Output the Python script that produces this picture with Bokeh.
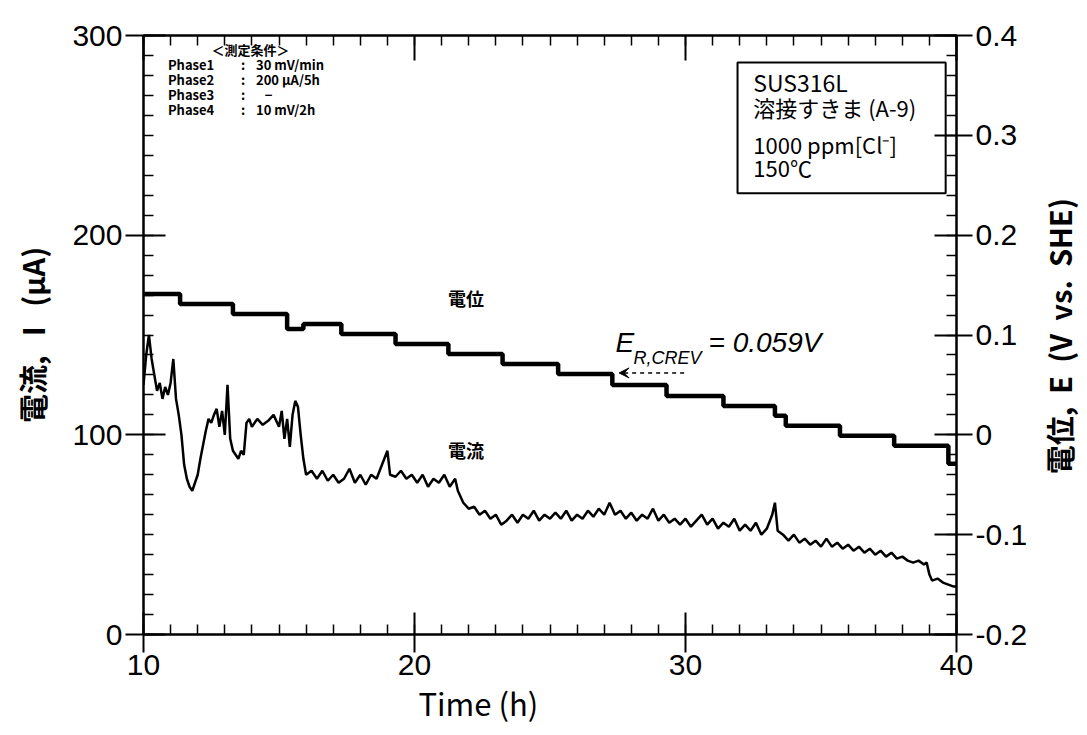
import math
from bokeh.plotting import figure
from bokeh.layouts import row
from bokeh.models import (Range1d, LinearAxis, FixedTicker, CustomJSTickFormatter, Label,
                          BoxAnnotation, Arrow, VeeHead, Title)
from bokeh.embed import file_html
from bokeh.resources import INLINE

# ---------------- data ----------------
time_I = [10.0, 10.1, 10.2, 10.3, 10.4, 10.5, 10.6, 10.7, 10.8, 10.9, 11.0, 11.1, 11.2, 11.3, 11.4,
          11.5, 11.6, 11.7, 11.8, 11.9, 12.0, 12.1, 12.2, 12.3, 12.4, 12.5, 12.6, 12.7, 12.8, 12.9,
          13.0, 13.1, 13.2, 13.3, 13.4, 13.5, 13.6, 13.7, 13.8, 13.9, 14.0, 14.2, 14.4, 14.6, 14.8,
          15.0, 15.1, 15.2, 15.3, 15.4, 15.5, 15.6, 15.7, 15.8, 15.9, 16.0, 16.2, 16.4, 16.6, 16.8,
          17.0, 17.2, 17.4, 17.6, 17.8, 18.0, 18.2, 18.4, 18.6, 18.8, 19.0, 19.1, 19.3, 19.5, 19.7,
          19.9, 20.1, 20.3, 20.5, 20.7, 20.9, 21.1, 21.3, 21.5, 21.6, 21.8, 22.0, 22.2, 22.4, 22.6,
          22.8, 23.0, 23.2, 23.4, 23.6, 23.8, 24.0, 24.2, 24.4, 24.6, 24.8, 25.0, 25.2, 25.4, 25.6,
          25.8, 26.0, 26.2, 26.4, 26.6, 26.8, 27.0, 27.2, 27.4, 27.6, 27.8, 28.0, 28.2, 28.4, 28.6,
          28.8, 29.0, 29.2, 29.4, 29.6, 29.8, 30.0, 30.2, 30.4, 30.6, 30.8, 31.0, 31.2, 31.4, 31.6,
          31.8, 32.0, 32.2, 32.4, 32.6, 32.8, 33.0, 33.2, 33.3, 33.4, 33.6, 33.8, 34.0, 34.2, 34.4,
          34.6, 34.8, 35.0, 35.2, 35.4, 35.6, 35.8, 36.0, 36.2, 36.4, 36.6, 36.8, 37.0, 37.2, 37.4,
          37.6, 37.8, 38.0, 38.2, 38.4, 38.6, 38.8, 38.9, 39.0, 39.1, 39.3, 39.5, 39.7, 39.9, 40.0]
current_uA = [125, 140, 150, 138, 130, 122, 126, 118, 124, 120, 126, 138, 118, 110, 100,
              85, 78, 74, 72, 76, 80, 88, 95, 102, 108, 106, 110, 113, 104, 112,
              100, 125, 98, 92, 90, 88, 92, 90, 106, 108, 104, 108, 105, 107, 110,
              104, 112, 98, 108, 94, 110, 117, 114, 100, 88, 80, 82, 78, 82, 77,
              80, 76, 78, 83, 76, 80, 75, 80, 78, 85, 92, 80, 79, 82, 78,
              80, 76, 80, 74, 78, 76, 80, 74, 78, 72, 66, 63, 64, 60, 62,
              58, 60, 55, 57, 60, 56, 60, 58, 62, 57, 60, 58, 61, 58, 62,
              57, 60, 58, 62, 59, 63, 60, 66, 60, 62, 58, 61, 57, 60, 58,
              63, 57, 60, 56, 58, 55, 58, 54, 57, 60, 55, 58, 53, 56, 54,
              58, 52, 55, 52, 56, 50, 53, 60, 66, 52, 50, 47, 50, 46, 48,
              45, 47, 44, 48, 44, 46, 43, 45, 42, 44, 41, 43, 40, 42, 39,
              41, 38, 39, 37, 36, 37, 35, 36, 30, 27, 28, 26, 25, 24, 24]

time_E = [10.0, 11.35, 13.3, 15.3, 15.9, 17.3, 19.3, 21.25, 23.25, 25.3, 27.3, 29.3, 31.4,
          33.3, 33.7, 35.7, 37.7, 39.7, 40.0]
potential_V = [0.141, 0.131, 0.121, 0.106, 0.111, 0.101, 0.091, 0.081, 0.071, 0.061, 0.050,
               0.039, 0.029, 0.019, 0.009, -0.001, -0.011, -0.029, -0.029]

x_major = [10, 20, 30, 40]
x_minor = list(range(10, 41))
yI_major = [0, 100, 200, 300]
yI_minor = list(range(0, 301, 10))
yE_major = [-0.2, -0.1, 0.0, 0.1, 0.2, 0.3, 0.4]
yE_minor = [round(-0.2 + 0.02 * i, 2) for i in range(31)]

JP = "Noto Sans CJK JP"
AR = "Liberation Sans"
K = "black"
SIDE_W = 50
NB = "\u00a0"

# ---------------- main figure ----------------
p = figure(width=1087 - SIDE_W, height=735, x_range=Range1d(10, 40), y_range=Range1d(0, 300),
           min_border_left=143, min_border_right=1087 - SIDE_W - 956, min_border_top=35,
           min_border_bottom=101, output_backend="svg", toolbar_location=None)
p.grid.visible = False
p.outline_line_color = K
p.outline_line_width = 2
p.background_fill_color = "white"
p.border_fill_color = "white"
p.extra_y_ranges = {"E": Range1d(-0.2, 0.4)}

# bottom axis
xa = p.xaxis[0]
xa.ticker = FixedTicker(ticks=x_major, minor_ticks=x_minor)
xa.major_tick_in = 22
xa.major_tick_out = 18
xa.minor_tick_in = 10
xa.minor_tick_out = 0
xa.axis_line_width = 2
xa.major_tick_line_width = 2
xa.minor_tick_line_width = 1.5
xa.major_label_text_font = AR
xa.major_label_text_font_size = "30px"
xa.major_label_text_color = K
xa.major_label_standoff = 2

# top axis (ticks only)
ta = LinearAxis(ticker=FixedTicker(ticks=x_major, minor_ticks=x_minor),
                formatter=CustomJSTickFormatter(code='return "";'),
                major_tick_in=25, major_tick_out=0,
                minor_tick_in=10, minor_tick_out=0, axis_line_width=2,
                major_tick_line_width=2, minor_tick_line_width=1.5)
p.add_layout(ta, "above")

# left axis
ya = p.yaxis[0]
ya.ticker = FixedTicker(ticks=yI_major, minor_ticks=yI_minor)
ya.major_tick_in = 22
ya.major_tick_out = 18
ya.minor_tick_in = 10
ya.minor_tick_out = 0
ya.axis_line_width = 2
ya.major_tick_line_width = 2
ya.minor_tick_line_width = 1.5
ya.major_label_text_font = AR
ya.major_label_text_font_size = "30px"
ya.major_label_text_color = K
ya.major_label_standoff = 3
ya.axis_label = "電流," + NB * 3 + "I" + NB * 3 + "(μA)"
ya.axis_label_text_font = JP
ya.axis_label_text_font_size = "29px"
ya.axis_label_text_font_style = "bold"
ya.axis_label_text_color = K
ya.axis_label_standoff = 16

# right axis (label drawn in side panel)
ra = LinearAxis(y_range_name="E", ticker=FixedTicker(ticks=yE_major, minor_ticks=yE_minor),
                formatter=CustomJSTickFormatter(code="""
                    const v = Math.round(tick * 10) / 10;
                    return Math.abs(v) < 1e-9 ? "0" : v.toFixed(1);
                """),
                major_tick_in=22, major_tick_out=16, minor_tick_in=10, minor_tick_out=0,
                axis_line_width=2, major_tick_line_width=2, minor_tick_line_width=1.5,
                major_label_text_font=AR, major_label_text_font_size="30px",
                major_label_text_color=K, major_label_standoff=3)
p.add_layout(ra, "right")

# x axis title (offset to the left, as in the reference)
p.add_layout(Title(text="Time (h)", align="left", offset=275, text_font=JP,
                   text_font_size="31px", text_font_style="normal", text_color=K,
                   standoff=0), "below")

# ---------------- series ----------------
p.line(time_I, current_uA, line_color=K, line_width=2.5)
p.step(time_E, potential_V, mode="after", y_range_name="E", line_color=K, line_width=4.5)

# ---------------- annotations ----------------
def lab(fig, x, y, text, size, font=JP, style="normal", align="left", baseline="middle", angle=0):
    fig.add_layout(Label(x=x, y=y, text=text, text_font=font, text_font_size=size,
                         text_font_style=style, text_align=align, text_baseline=baseline,
                         text_color=K, angle=angle))

lab(p, 13.95, 293, "＜測定条件＞", "13px", style="bold", align="center")
phase_names = ["Phase1", "Phase2", "Phase3", "Phase4"]
phase_vals = ["30 mV/min", "200 μA/5h", NB * 3 + "−", "10 mV/2h"]
phase_y = [285.5, 278, 270.5, 263]
for nm, vv, yy in zip(phase_names, phase_vals, phase_y):
    lab(p, 10.9, yy, nm, "13px", style="bold")
    lab(p, 13.6, yy, ":", "13px", style="bold")
    lab(p, 14.15, yy, vv, "13px", style="bold")

p.add_layout(BoxAnnotation(left=31.92, right=39.6, bottom=221, top=286.5,
                           fill_alpha=0, line_color=K, line_alpha=1, line_width=2))
lab(p, 32.5, 276.5, "SUS316L", "23px")
lab(p, 32.5, 264, "溶接すきま (A-9)", "22px")
lab(p, 32.5, 245.5, "1000 ppm[Cl⁻]", "22px")
lab(p, 32.5, 234, "150℃", "22px")

lab(p, 21.9, 168.5, "電位", "18px", style="bold", align="center")
lab(p, 21.9, 92.5, "電流", "18px", style="bold", align="center")

lab(p, 27.42, 146, "E", "28px", font=AR, style="italic", baseline="alphabetic")
lab(p, 28.08, 138.5, "R,CREV", "18px", font=AR, style="italic", baseline="alphabetic")
lab(p, 30.85, 146, "= 0.059V", "28px", font=AR, style="italic", baseline="alphabetic")
p.add_layout(Arrow(end=VeeHead(size=10, fill_color=K, line_color=K),
                   x_start=29.95, y_start=131, x_end=27.55, y_end=131,
                   line_dash="4 4", line_width=1.5, line_color=K))

# ---------------- side panel for the right axis title ----------------
p2 = figure(width=SIDE_W, height=735, x_range=Range1d(0, SIDE_W), y_range=Range1d(0, 735),
            x_axis_location=None, y_axis_location=None, min_border=0,
            output_backend="svg", toolbar_location=None)
p2.grid.visible = False
p2.outline_line_color = None
p2.background_fill_color = "white"
p2.border_fill_color = "white"
right_title = "電位," + NB * 2 + "E" + NB * 2 + "(V" + NB * 2 + "vs." + NB * 2 + "SHE)"
lab(p2, 21, 366, right_title, "29px", style="bold", align="center", angle=math.pi / 2)

layout = row(p, p2, spacing=0)
open("out.html", "w").write(file_html(layout, INLINE))
